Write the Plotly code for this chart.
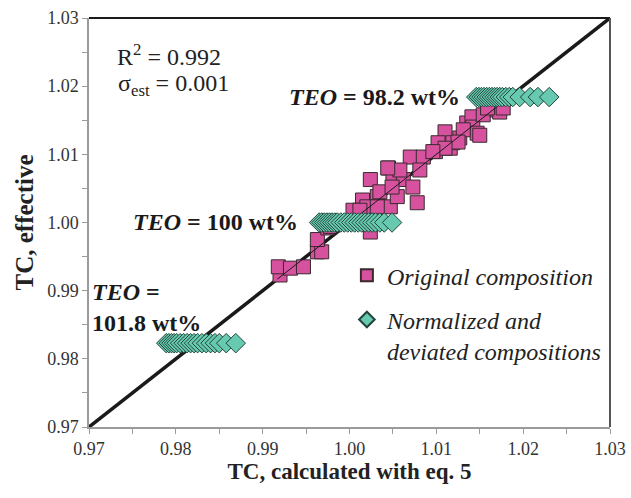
import plotly.graph_objects as go

# Original composition (pink squares)
orig_x = [0.9920, 0.9918, 0.9932, 0.9947, 0.9963, 0.9968, 0.9963, 0.9975, 0.9981, 0.9978,
          1.0024, 1.0015, 1.0024, 1.0032, 1.0045, 1.0050, 1.0004, 1.0020, 1.0035, 1.0047,
          1.0110, 1.0070, 1.0085, 1.0099, 1.0116, 1.0062, 1.0073, 1.0078, 1.0055, 1.0035,
          1.0012, 1.0032, 1.0049, 1.0135, 1.0141, 1.0142, 1.0147, 1.0127, 1.0119, 1.0154,
          1.0170, 1.0173, 1.0131, 1.0150, 1.0125, 1.0102, 1.0110, 1.0096, 1.0058, 1.0081,
          1.0159, 1.0177, 1.0044]
orig_y = [0.9923, 0.9935, 0.9933, 0.9935, 0.9957, 0.9957, 0.9975, 0.9992, 0.9997, 0.9994,
          0.9986, 1.0033, 1.0063, 1.0038, 1.0080, 1.0067, 1.0018, 1.0023, 1.0023, 1.0023,
          1.0133, 1.0096, 1.0096, 1.0104, 1.0109, 1.0063, 1.0052, 1.0029, 1.0038, 1.0045,
          1.0018, 1.0023, 1.0052, 1.0146, 1.0155, 1.0140, 1.0131, 1.0124, 1.0117, 1.0158,
          1.0165, 1.0162, 1.0136, 1.0128, 1.0118, 1.0117, 1.0109, 1.0104, 1.0077, 1.0077,
          1.0168, 1.0168, 1.0080]

# Normalized and deviated compositions (teal diamonds)
norm_low_x = [0.9789, 0.9792, 0.9795, 0.9798, 0.9801, 0.9805, 0.9809, 0.9813, 0.9817, 0.9821,
              0.9825, 0.9830, 0.9835, 0.9840, 0.9845, 0.9850, 0.9858, 0.9869]
norm_low_y = [0.9823] * len(norm_low_x)
norm_mid_x = [0.9965, 0.9968, 0.9971, 0.9974, 0.9977, 0.9980, 0.9983, 0.9986, 0.9990, 0.9994,
              0.9998, 1.0002, 1.0006, 1.0010, 1.0014, 1.0018, 1.0022, 1.0026, 1.0030, 1.0035,
              1.0040, 1.0049]
norm_mid_y = [1.0000] * len(norm_mid_x)
norm_high_x = [1.0146, 1.0149, 1.0152, 1.0155, 1.0158, 1.0161, 1.0164, 1.0167, 1.0170, 1.0173,
               1.0176, 1.0180, 1.0184, 1.0188, 1.0196, 1.0208, 1.0217, 1.0230]
norm_high_y = [1.0184] * len(norm_high_x)

norm_x = norm_low_x + norm_mid_x + norm_high_x
norm_y = norm_low_y + norm_mid_y + norm_high_y

diag = [0.97, 1.03]
fit = [0.9917, 1.0172]

tick_vals = [0.97, 0.98, 0.99, 1.00, 1.01, 1.02, 1.03]
tick_text = ["0.97", "0.98", "0.99", "1.00", "1.01", "1.02", "1.03"]

SERIF = "Liberation Serif"

fig = go.Figure()
fig.add_trace(go.Scatter(x=diag, y=diag, mode="lines", line=dict(color="#1a1a1a", width=3.5),
                         showlegend=False, hoverinfo="skip"))
fig.add_trace(go.Scatter(x=orig_x, y=orig_y, mode="markers", name="<i>Original composition</i>",
                         legendgroup="a",
                         marker=dict(symbol="square", size=14, color="#D6519E",
                                     line=dict(color="#3a2a30", width=1))))
fig.add_trace(go.Scatter(x=fit, y=fit, mode="lines", line=dict(color="#1a1a1a", width=1),
                         showlegend=False, hoverinfo="skip"))
fig.add_trace(go.Scatter(x=norm_x, y=norm_y, mode="markers",
                         name="<i>Normalized and</i><br><i>deviated compositions</i>",
                         legendgroup="b",
                         marker=dict(symbol="diamond", size=15, color="#66C9B0",
                                     line=dict(color="#24443a", width=1))))

axis_common = dict(range=[0.97, 1.03], tickvals=tick_vals, ticktext=tick_text,
                   showgrid=False, zeroline=False, showline=True, linecolor="#9a9a9a",
                   linewidth=1.5, ticks="outside", ticklen=5, tickcolor="#9a9a9a",
                   automargin=False,
                   tickfont=dict(family=SERIF, size=18, color="#333333"),
                   minor=dict(dtick=0.005, tick0=0.97, ticks="outside", ticklen=5,
                              tickcolor="#9a9a9a", showgrid=False))

fig.update_xaxes(**axis_common,
                 title=dict(text="<b>TC, calculated with eq. 5</b>",
                            font=dict(family=SERIF, size=23, color="#222222"), standoff=4))
fig.update_yaxes(**axis_common,
                 title=dict(text="<b>TC, effective</b>",
                            font=dict(family=SERIF, size=25, color="#222222"), standoff=6))

# top and right borders
fig.add_shape(type="line", xref="paper", yref="paper", x0=0, x1=1, y0=1, y1=1,
              line=dict(color="#1a1a1a", width=2))
fig.add_shape(type="line", xref="paper", yref="paper", x0=1, x1=1, y0=0, y1=1,
              line=dict(color="#555555", width=2))

ann_font = dict(family=SERIF, size=24, color="#222222")
bold_font = dict(family=SERIF, size=24, color="#1a1a1a")
fig.add_annotation(x=0.97300, y=1.0246, xref="x", yref="y", text="R<sup>2</sup> = 0.992",
                   showarrow=False, xanchor="left", yanchor="middle", font=ann_font)
fig.add_annotation(x=0.97310, y=1.0201, xref="x", yref="y", text="σ<sub>est</sub> = 0.001",
                   showarrow=False, xanchor="left", yanchor="middle", font=ann_font)
fig.add_annotation(x=1.0129, y=1.0184, xref="x", yref="y",
                   text="<b><i>TEO</i> = 98.2 wt%</b>",
                   showarrow=False, xanchor="right", yanchor="middle", font=bold_font)
fig.add_annotation(x=0.9943, y=1.0001, xref="x", yref="y",
                   text="<b><i>TEO</i> = 100 wt%</b>",
                   showarrow=False, xanchor="right", yanchor="middle", font=bold_font)
fig.add_annotation(x=0.9701, y=0.9876, xref="x", yref="y",
                   text="<b><i>TEO</i> =</b><br><b>101.8 wt%</b>", align="left",
                   showarrow=False, xanchor="left", yanchor="middle", font=bold_font)

fig.update_layout(
    width=631, height=498,
    margin=dict(l=89, r=21, t=18, b=71, autoexpand=False),
    paper_bgcolor="white", plot_bgcolor="white",
    font=dict(family=SERIF),
    legend=dict(x=0.495, y=0.425, xanchor="left", yanchor="top",
                font=dict(family=SERIF, size=24, color="#222222"),
                bgcolor="rgba(0,0,0,0)", traceorder="grouped", tracegroupgap=10,
                itemsizing="constant", valign="top", borderwidth=0),
)

fig.write_html("out.html", config={"displayModeBar": False},
               post_script="document.body.style.margin='0px';")
